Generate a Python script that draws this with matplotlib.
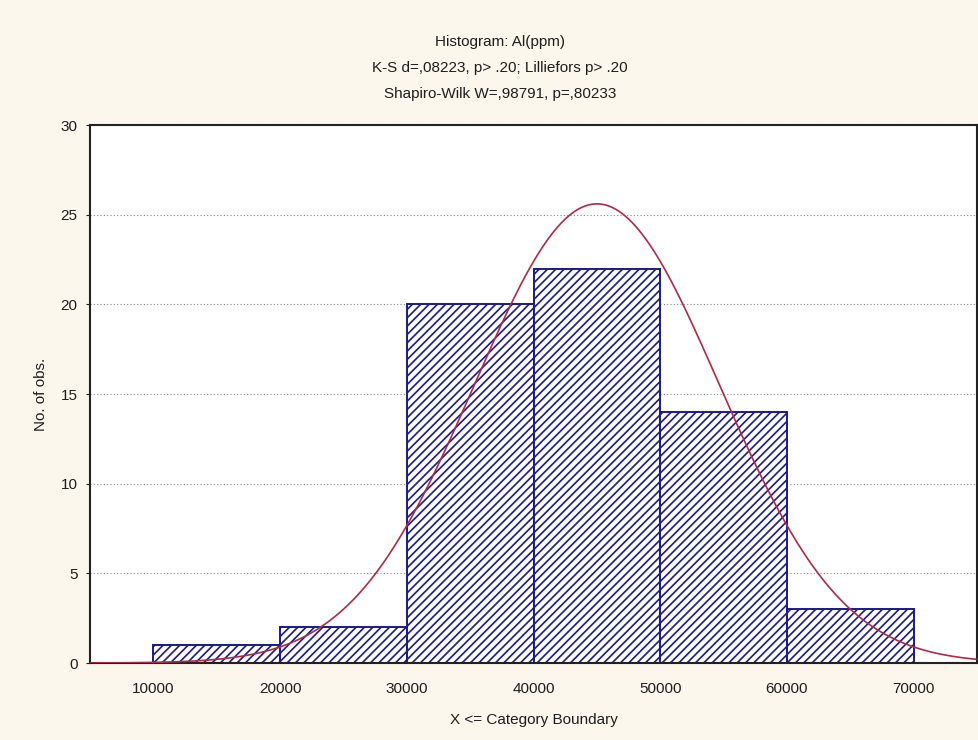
import matplotlib
matplotlib.use("Agg")
import matplotlib.pyplot as plt
import numpy as np

plt.rcParams['font.family'] = ['Liberation Sans', 'DejaVu Sans']
plt.rcParams['hatch.color'] = '#14143c'
plt.rcParams['hatch.linewidth'] = 1.2

# histogram data: upper category boundaries and counts
bin_edges = [10000, 20000, 30000, 40000, 50000, 60000, 70000]
counts = [1, 2, 20, 22, 14, 3]
# fitted normal curve parameters
mu = 45000
sigma = 9660

title_lines = ["Histogram: Al(ppm)",
               "K-S d=,08223, p> .20; Lilliefors p> .20",
               "Shapiro-Wilk W=,98791, p=,80233"]

bg = '#fbf7ec'
txt = '#1e1e1e'
fig = plt.figure(figsize=(9.79, 7.40), dpi=100, facecolor=bg)
ax = fig.add_axes([0.092, 0.104, 0.906, 0.727])
ax.set_facecolor('white')

lefts = bin_edges[:-1]
widths = np.diff(bin_edges)
ax.bar(lefts, counts, width=widths, align='edge', facecolor='white',
       edgecolor='#1a1a8a', linewidth=1.4, hatch='////', zorder=2)

n = sum(counts)
xs = np.linspace(5000, 75000, 400)
ys = n * 10000 / (sigma * np.sqrt(2 * np.pi)) * np.exp(-0.5 * ((xs - mu) / sigma) ** 2)
ax.plot(xs, ys, color='#b02a44', linewidth=1.2, zorder=3)

ax.set_xlim(5000, 75000)
ax.set_ylim(0, 30)
ax.set_xticks(bin_edges)
ax.set_yticks(range(0, 31, 5))
ax.yaxis.grid(True, linestyle=(0, (1, 2)), color='#888888', linewidth=0.8, zorder=0)
ax.tick_params(axis='x', length=0, pad=14, labelsize=11, colors=txt)
ax.tick_params(axis='y', length=3, pad=6, labelsize=11, colors=txt)
for s in ax.spines.values():
    s.set_linewidth(1.5)
    s.set_color('#222222')

ax.set_xlabel("X <= Category Boundary", fontsize=11, labelpad=12, color=txt)
ax.set_ylabel("No. of obs.", fontsize=11, labelpad=9, color=txt)

for i, t in enumerate(title_lines):
    fig.text(0.511, 1 - (42 + 26 * i) / 740, t, ha='center', va='center',
             fontsize=11, color=txt)

fig.savefig("out.png", dpi=100, facecolor=bg)
